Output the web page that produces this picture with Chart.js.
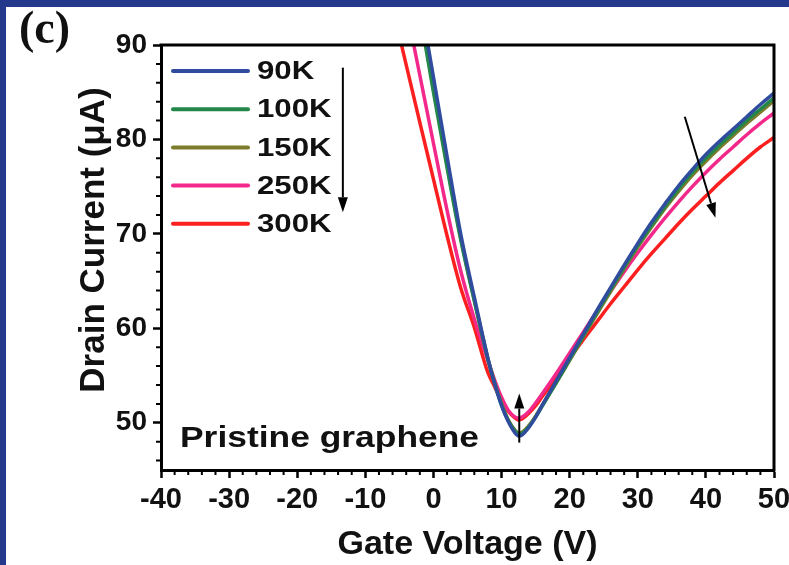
<!DOCTYPE html>
<html>
<head>
<meta charset="utf-8">
<script src="https://cdn.jsdelivr.net/npm/chart.js@4.4.1/dist/chart.umd.min.js"></script>
<style>
  html, body { margin: 0; padding: 0; background: #ffffff; }
  #wrap { width: 789px; height: 565px; position: relative; }
  canvas { display: block; }
</style>
</head>
<body>
<div id="wrap"><canvas id="chart" width="789" height="565"></canvas></div>
<script>
// Transfer curves of pristine graphene FET at several temperatures
const gateVoltage = [-6, -4, -2, 0, 2, 4, 6, 8, 9, 10, 11, 12, 12.5, 13, 14, 15, 16, 18, 20, 22, 24, 26, 28, 30, 32, 34, 36, 38, 40, 42, 44, 46, 48, 50];

const current90K  = [null, null, 95.0, 86.6, 78.2, 70.0, 63.3, 56.8, 54.1, 51.8, 50.1, 48.9, 48.6, 48.7, 49.5, 50.6, 51.9, 54.4, 56.9, 59.4, 61.9, 64.3, 66.7, 69.0, 71.2, 73.2, 75.1, 76.8, 78.4, 79.8, 81.1, 82.4, 83.7, 84.9];
const current100K = [null, null, 93.4, 85.0, 77.0, 69.4, 62.9, 56.7, 54.1, 51.9, 50.2, 49.1, 48.8, 48.9, 49.6, 50.6, 51.8, 54.2, 56.7, 59.2, 61.7, 64.1, 66.5, 68.8, 70.9, 72.9, 74.8, 76.5, 78.0, 79.4, 80.7, 82.0, 83.2, 84.4];
const current150K = [null, null, 93.8, 85.4, 77.3, 69.6, 63.0, 56.8, 54.2, 52.0, 50.3, 49.2, 48.9, 49.0, 49.7, 50.7, 51.9, 54.2, 56.6, 59.1, 61.5, 63.9, 66.3, 68.6, 70.7, 72.7, 74.5, 76.2, 77.7, 79.1, 80.4, 81.7, 82.9, 84.1];
const current250K = [null, 94.0, 86.8, 79.6, 72.5, 66.1, 61.0, 56.6, 54.5, 52.7, 51.3, 50.6, 50.5, 50.6, 51.2, 52.1, 53.1, 55.2, 57.4, 59.6, 61.8, 63.9, 66.0, 68.0, 69.9, 71.7, 73.4, 75.0, 76.5, 77.9, 79.2, 80.5, 81.7, 82.8];
const current300K = [94.0, 87.9, 81.8, 75.8, 69.8, 64.3, 60.1, 55.3, 53.8, 52.3, 51.2, 50.5, 50.3, 50.4, 51.0, 51.8, 52.8, 54.7, 56.8, 58.8, 60.7, 62.6, 64.4, 66.2, 67.9, 69.5, 71.1, 72.6, 74.0, 75.4, 76.7, 78.0, 79.2, 80.2];

const seriesLabels = ['90K', '100K', '150K', '250K', '300K'];
const seriesColors = ['#2f4c9e', '#24874a', '#7c7c2c', '#f2288a', '#fb1f1f'];
const seriesCurrents = [current90K, current100K, current150K, current250K, current300K];

const xTicks = [-40, -30, -20, -10, 0, 10, 20, 30, 40, 50];
const yTicks = [50, 60, 70, 80, 90];

// Arrows marking the temperature trend, in data units [x0, y0, x1, y1] (head at x1, y1)
const trendArrows = [
  [-13.3, 87.6, -13.3, 72.3],
  [12.6, 47.9, 12.6, 53.1],
  [36.9, 82.4, 41.4, 71.7]
];

const datasets = seriesLabels.map((label, i) => ({
  label,
  data: gateVoltage.map((v, k) => ({ x: v, y: seriesCurrents[i][k] })),
  borderColor: seriesColors[i],
  backgroundColor: seriesColors[i],
  borderWidth: 3.5,
  pointRadius: 0,
  fill: false,
  cubicInterpolationMode: 'monotone',
  spanGaps: false
}));

const FONT = '"Liberation Sans", Arial, sans-serif';

// draw text with a horizontal stretch factor
function wideText(ctx, text, x, y, sx) {
  ctx.save();
  ctx.translate(x, y);
  ctx.scale(sx, 1);
  ctx.fillText(text, 0, 0);
  ctx.restore();
}

const framePlugin = {
  id: 'framePlugin',
  beforeDraw(chart) {
    const ctx = chart.ctx;
    ctx.save();
    ctx.fillStyle = '#24398b';
    ctx.fillRect(0, 0, chart.width, chart.height);
    ctx.fillStyle = '#ffffff';
    ctx.fillRect(6, 7, chart.width - 6, chart.height - 7);
    ctx.restore();
  },
  afterDatasetsDraw(chart) {
    const ctx = chart.ctx;
    const a = chart.chartArea;
    const xs = chart.scales.x, ys = chart.scales.y;
    ctx.save();
    ctx.strokeStyle = '#000';
    ctx.lineWidth = 3;
    ctx.lineCap = 'square';
    ctx.beginPath();
    ctx.moveTo(a.left, a.top);
    ctx.lineTo(a.right, a.top);
    ctx.lineTo(a.right, a.bottom);
    ctx.stroke();

    // minor ticks every 2 units, pointing outward
    ctx.lineWidth = 2;
    ctx.lineCap = 'butt';
    ctx.beginPath();
    for (let v = xs.min; v <= xs.max; v += 2) {
      if (v % 10 === 0) continue;
      const px = xs.getPixelForValue(v);
      ctx.moveTo(px, a.bottom);
      ctx.lineTo(px, a.bottom + 5);
    }
    for (let v = ys.min; v <= ys.max; v += 1) {
      if (v % 2 !== 0 || v % 10 === 0) continue;
      const py = ys.getPixelForValue(v);
      ctx.moveTo(a.left, py);
      ctx.lineTo(a.left - 5, py);
    }
    ctx.stroke();

    // trend arrows
    ctx.fillStyle = '#000';
    trendArrows.forEach(([x0, y0, x1, y1]) => {
      const p0x = xs.getPixelForValue(x0), p0y = ys.getPixelForValue(y0);
      const p1x = xs.getPixelForValue(x1), p1y = ys.getPixelForValue(y1);
      const ang = Math.atan2(p1y - p0y, p1x - p0x);
      const headLen = 15, headW = 5;
      const bx = p1x - headLen * Math.cos(ang), by = p1y - headLen * Math.sin(ang);
      ctx.lineWidth = 2;
      ctx.beginPath();
      ctx.moveTo(p0x, p0y);
      ctx.lineTo(bx, by);
      ctx.stroke();
      ctx.beginPath();
      ctx.moveTo(p1x, p1y);
      ctx.lineTo(bx + headW * Math.sin(ang), by - headW * Math.cos(ang));
      ctx.lineTo(bx - headW * Math.sin(ang), by + headW * Math.cos(ang));
      ctx.closePath();
      ctx.fill();
    });
    ctx.restore();
  },
  afterDraw(chart) {
    const ctx = chart.ctx;
    const a = chart.chartArea;
    ctx.save();
    // legend inside the plot, top-left
    const x0 = a.left + 12, x1 = a.left + 87;
    chart.data.datasets.forEach((ds, i) => {
      const y = a.top + 26 + i * 38.2;
      ctx.strokeStyle = ds.borderColor;
      ctx.lineWidth = 4;
      ctx.lineCap = 'round';
      ctx.beginPath();
      ctx.moveTo(x0, y);
      ctx.lineTo(x1, y);
      ctx.stroke();
      ctx.fillStyle = '#111';
      ctx.font = 'bold 26px ' + FONT;
      ctx.textBaseline = 'middle';
      ctx.textAlign = 'left';
      wideText(ctx, ds.label, x1 + 9, y + 1, 1.2);
    });

    // sample label
    ctx.fillStyle = '#111';
    ctx.font = 'bold 30px ' + FONT;
    ctx.textBaseline = 'alphabetic';
    wideText(ctx, 'Pristine graphene', a.left + 19, a.bottom - 23, 1.18);

    // y axis title
    ctx.save();
    ctx.translate(94, 240);
    ctx.rotate(-Math.PI / 2);
    ctx.font = 'bold 35px ' + FONT;
    ctx.textAlign = 'center';
    ctx.textBaseline = 'middle';
    ctx.fillText('Drain Current (\u03bcA)', 0, 0);
    ctx.restore();

    // panel letter
    ctx.font = 'bold 46px "Liberation Serif", "Times New Roman", serif';
    ctx.fillText('(c)', 19, 43);
    ctx.restore();
  }
};

new Chart(document.getElementById('chart'), {
  type: 'line',
  data: { datasets },
  options: {
    responsive: false,
    animation: false,
    devicePixelRatio: 1,
    layout: { padding: { top: 45, right: 15, left: 0, bottom: 0 } },
    plugins: { legend: { display: false }, tooltip: { enabled: false } },
    scales: {
      x: {
        type: 'linear',
        min: -40, max: 50,
        afterBuildTicks: (s) => { s.ticks = xTicks.map(v => ({ value: v })); },
        afterFit: (s) => { s.height = 95; s.paddingLeft = 0; s.paddingRight = 0; },
        grid: { drawOnChartArea: false, drawTicks: true, tickLength: 8, tickWidth: 2.5, tickColor: '#000' },
        border: { display: true, color: '#000', width: 3 },
        ticks: { color: '#111', padding: 5, maxRotation: 0, font: { family: FONT, size: 29, weight: 'bold' } },
        title: { display: true, text: 'Gate Voltage (V)', color: '#111', padding: { top: 0, bottom: 0 }, font: { family: FONT, size: 34, weight: 'bold' } }
      },
      y: {
        type: 'linear',
        min: 45, max: 90,
        afterBuildTicks: (s) => { s.ticks = yTicks.map(v => ({ value: v })); },
        afterFit: (s) => { s.width = 161; },
        grid: { drawOnChartArea: false, drawTicks: true, tickLength: 8, tickWidth: 2.5, tickColor: '#000' },
        border: { display: true, color: '#000', width: 3 },
        ticks: { color: '#111', padding: 6, font: { family: FONT, size: 28, weight: 'bold' } },
        title: { display: false }
      }
    }
  },
  plugins: [framePlugin]
});
</script>
</body>
</html>
